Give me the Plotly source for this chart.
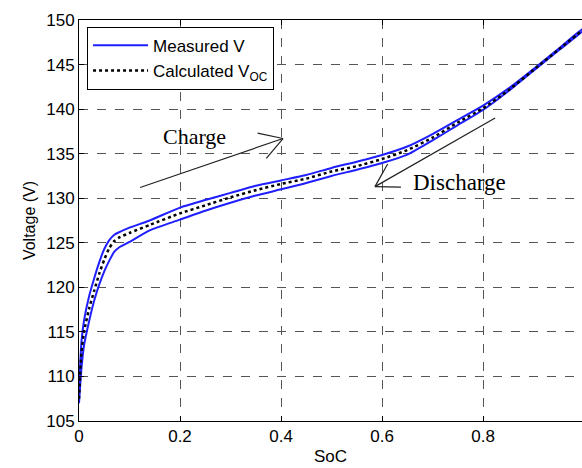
import math
import plotly.graph_objects as go

soc = [0, 0.005, 0.01, 0.02, 0.03, 0.04, 0.05, 0.06, 0.07, 0.08, 0.1, 0.14, 0.2, 0.25,
       0.3, 0.35, 0.4, 0.45, 0.5, 0.55, 0.6, 0.65, 0.7, 0.75, 0.8, 0.85, 0.9, 0.95, 1.0]
v_charge = [108.5, 114.0, 116.3, 119.0, 121.0, 122.8, 124.3, 125.3, 125.9, 126.2, 126.7, 127.5,
            128.95, 129.8, 130.6, 131.4, 132.0, 132.6, 133.4, 134.1, 134.85, 135.8, 137.2, 138.8,
            140.4, 142.3, 144.5, 146.8, 149.1]
v_discharge = [107.0, 111.0, 113.5, 116.2, 118.5, 120.3, 121.8, 123.0, 124.0, 124.5, 125.1, 126.4,
               127.6, 128.6, 129.5, 130.3, 131.0, 131.7, 132.5, 133.2, 133.95, 134.9, 136.5, 138.2,
               139.9, 142.0, 144.3, 146.6, 148.9]
v_ocv = [107.5, 112.8, 115.0, 117.6, 119.6, 121.5, 123.1, 124.4, 125.2, 125.6, 126.1, 127.0,
         128.3, 129.2, 130.1, 130.9, 131.6, 132.2, 133.0, 133.6, 134.4, 135.4, 136.8, 138.5,
         140.1, 142.1, 144.4, 146.7, 149.0]

x_ticks = [0, 0.2, 0.4, 0.6, 0.8]
x_tick_text = ["0", "0.2", "0.4", "0.6", "0.8"]
y_ticks = [105, 110, 115, 120, 125, 130, 135, 140, 145, 150]

# annotation arrows: (tail_soc, tail_v, tip_soc, tip_v)
charge_arrow = (0.121, 131.2, 0.404, 136.7)
discharge_arrow = (0.824, 139.0, 0.586, 131.3)

sans = "Liberation Sans, Arial, sans-serif"
serif = "Liberation Serif, Times New Roman, serif"

W, H = 582, 468
ML, MR, MT, MB = 79, 0, 20, 47
X_RANGE = [0, 0.996]
Y_RANGE = [105, 150]

fig = go.Figure()
fig.add_trace(go.Scatter(
    x=soc + soc[::-1], y=v_charge + v_discharge[::-1],
    mode="lines", name="Measured V",
    line=dict(color="#1f1fff", width=2, shape="spline", smoothing=0.6),
))
fig.add_trace(go.Scatter(
    x=soc, y=v_ocv, mode="lines", name="Calculated V<sub>OC</sub>",
    line=dict(color="black", width=2.5, dash="dot", shape="spline", smoothing=0.6),
))

px_x = (W - ML - MR) / (X_RANGE[1] - X_RANGE[0])
px_y = (H - MT - MB) / (Y_RANGE[1] - Y_RANGE[0])
arrow_line = dict(color="#222222", width=1.2)


def add_arrow(tail_x, tail_y, tip_x, tip_y, arm_len=26, arm_deg=31):
    fig.add_shape(type="line", xref="x", yref="y", x0=tail_x, y0=tail_y,
                  x1=tip_x, y1=tip_y, line=arrow_line)
    dx = (tail_x - tip_x) * px_x
    dy = (tail_y - tip_y) * px_y
    ang = math.atan2(dy, dx)
    for s in (1, -1):
        a = ang + s * math.radians(arm_deg)
        fig.add_shape(type="line", xref="x", yref="y",
                      xsizemode="pixel", ysizemode="pixel",
                      xanchor=tip_x, yanchor=tip_y,
                      x0=0, y0=0, x1=arm_len * math.cos(a), y1=arm_len * math.sin(a),
                      line=arrow_line)


add_arrow(*charge_arrow)
add_arrow(*discharge_arrow)

fig.add_annotation(x=0.229, y=136.9, xref="x", yref="y", text="Charge", showarrow=False,
                   font=dict(family=serif, size=22, color="black"))
fig.add_annotation(x=0.754, y=131.8, xref="x", yref="y", text="Discharge", showarrow=False,
                   font=dict(family=serif, size=23, color="black"))

fig.update_layout(
    width=W, height=H,
    margin=dict(l=ML, r=MR, t=MT, b=MB),
    paper_bgcolor="white", plot_bgcolor="white",
    font=dict(family=sans, size=16, color="black"),
    legend=dict(x=0.016, y=0.983, xanchor="left", yanchor="top",
                bordercolor="black", borderwidth=1, bgcolor="white",
                font=dict(family=sans, size=17, color="black"),
                tracegroupgap=0, itemwidth=55),
    showlegend=True,
)
fig.update_xaxes(
    range=X_RANGE, tickvals=x_ticks, ticktext=x_tick_text,
    showline=True, linecolor="black", linewidth=1, mirror="ticks",
    ticks="inside", ticklen=5, tickcolor="black",
    showgrid=True, gridcolor="#555555", griddash="dash", gridwidth=1,
    zeroline=False, tickfont=dict(family=sans, size=17),
    title=dict(text="SoC", font=dict(family=sans, size=17), standoff=4),
)
fig.update_yaxes(
    range=Y_RANGE, tickvals=y_ticks,
    showline=True, linecolor="black", linewidth=1, mirror=False,
    ticks="inside", ticklen=5, tickcolor="black",
    showgrid=True, gridcolor="#555555", griddash="dash", gridwidth=1,
    zeroline=False, tickfont=dict(family=sans, size=17),
    title=dict(text="Voltage (V)", font=dict(family=sans, size=16), standoff=6),
)

fig.write_html("out.html")
